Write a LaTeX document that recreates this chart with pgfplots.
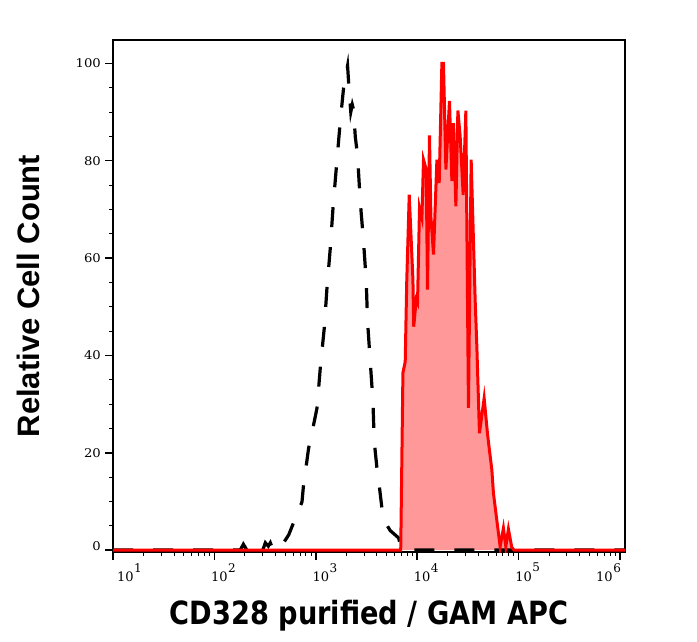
\documentclass[border=0pt]{standalone}
\usepackage{fontspec}
\usepackage{graphicx}
\usepackage{pgfplots}
\pgfplotsset{compat=1.18}
\newfontfamily\xlabfont{DejaVu Sans}
\newfontfamily\ylabfont{Liberation Sans}
\newfontfamily\tickfont{DejaVu Serif}
\newcommand{\xt}[1]{10\hspace{0.5pt}\raisebox{9.3pt}{\fontsize{12}{13}\selectfont #1}}
\newcommand{\yt}[1]{\scalebox{1.1}[1]{#1}}

\begin{document}
\begin{tikzpicture}
\begin{axis}[
  scale only axis, width=512pt, height=512pt,
  xmode=log, xmin=10, xmax=1.12e6, ymin=-0.4, ymax=104.8,
  axis line style={line width=1.2pt, black},
  xtick={10,100,1000,10000,100000,1000000},
  xticklabels={{\hspace*{7.5pt}\xt{1}},{\xt{2}},{\xt{3}},{\xt{4}},{\xt{5}},{\hspace*{-20.5pt}\xt{6}}},
  minor xtick={20,30,40,50,60,70,80,90,200,300,400,500,600,700,800,900,2000,3000,4000,5000,6000,7000,8000,9000,20000,30000,40000,50000,60000,70000,80000,90000,200000,300000,400000,500000,600000,700000,800000,900000},
  ytick={0,20,40,60,80,100},
  yticklabels={{\raisebox{8pt}{\yt{0}}},{\yt{20}},{\yt{40}},{\yt{60}},{\yt{80}},{\yt{100}}},
  minor ytick={5,10,15,25,30,35,45,50,55,65,70,75,85,90,95},
  tick align=outside,
  xtick pos=bottom, ytick pos=left,
  major tick length=8pt, minor tick length=4pt,
  every major tick/.style={line width=1.6pt, black},
  every minor tick/.style={line width=1pt, black},
  xticklabel style={font=\tickfont\fontsize{13}{15}\selectfont, anchor=north west, inner sep=0pt, xshift=-3.5pt, yshift=-3pt},
  yticklabel style={font=\tickfont\fontsize{12}{14}\selectfont, anchor=east, inner sep=0pt, xshift=-4pt},
  xlabel={\scalebox{0.85}[1]{\xlabfont\bfseries\fontsize{32}{36}\selectfont CD328 purified / GAM APC}},
  xlabel style={at={(axis description cs:0.5,-0.1412)}, anchor=base, inner sep=0pt},
  ylabel={\ylabfont\bfseries\fontsize{31}{34}\selectfont Relative Cell Count},
  ylabel style={at={(axis description cs:-0.1426,0.5)}, anchor=base, inner sep=0pt},
  clip=true,
]
\coordinate (sw) at (rel axis cs:0,0);
\coordinate (ne) at (rel axis cs:1,1);

% red filled histogram (fill)
\addplot[draw=none, fill=red!40] coordinates {
(10,0) (6700,0) (6877,0) (7230,36.4) (7617,38.7) (7882,55) (8343,73) (9071,55.6)
(9238,45.9) (9775,51.4) (10070,50.8) (10537,70.3) (11125,68.2) (11536,80.2) (12265,78.2)
(12632,53.5) (13217,85.2) (13646,68.6) (14474,60.7) (15637,80.2) (16475,75.4) (17512,100)
(18160,100) (19179,78.2) (20809,92.3) (21976,75.8) (22785,87.7) (24063,70.6) (25177,90.3)
(26521,85.0) (28391,73.0) (30182,90.3) (32012,29.2) (34041,80.2) (37275,51.4) (38745,41.8)
(41094,24.0) (45719,31.2) (49271,24.0) (51220,21) (54450,16.5) (56451,11.7) (58677,8.9)
(65725,0.7) (70828,4.5) (74806,0.7) (79344,4.3) (85704,0.5) (90310,0) (1.12e6,0)
} \closedcycle;

% black dashed control histogram
\addplot[black, line width=3.2pt, dash pattern=on 20pt off 20pt] coordinates {
(10,0) (180,0) (193,1.2) (205,0.3) (215,1.0) (225,0) (300,0) (318,1.5) (340,0.8) (356,1.5)
(380,0) (447,0.5) (540,3.1) (614,6) (731,9.9) (754,13) (849,20.9) (925,24.5) (1028,29.2)
(1107,37.4) (1213,45.7) (1289,53.9) (1390,62.1) (1479,70.4) (1594,78.6) (1743,88.1)
(1880,95) (1953,97) (2057,99.5) (2138,94) (2213,90) (2290,91.5) (2357,90.5) (2449,85)
(2582,81) (2742,71.7) (2956,63.4) (3144,55.2) (3238,47) (3444,38.7) (3661,30.5) (3770,22.3)
(4009,16.8) (4254,12.7) (4523,8) (4731,6) (5420,4) (6546,2.5) (6955,0.5) (7627,0) (1.12e6,0)
};

% red outline
\addplot[red, line width=3pt] coordinates {
(10,0) (6700,0) (6877,0) (7230,36.4) (7617,38.7) (7882,55) (8343,73) (9071,55.6)
(9238,45.9) (9775,51.4) (10070,50.8) (10537,70.3) (11125,68.2) (11536,80.2) (12265,78.2)
(12632,53.5) (13217,85.2) (13646,68.6) (14474,60.7) (15637,80.2) (16475,75.4) (17512,100)
(18160,100) (19179,78.2) (20809,92.3) (21976,75.8) (22785,87.7) (24063,70.6) (25177,90.3)
(26521,85.0) (28391,73.0) (30182,90.3) (32012,29.2) (34041,80.2) (37275,51.4) (38745,41.8)
(41094,24.0) (45719,31.2) (49271,24.0) (51220,21) (54450,16.5) (56451,11.7) (58677,8.9)
(65725,0.7) (70828,4.5) (74806,0.7) (79344,4.3) (85704,0.5) (90310,0) (1.12e6,0)
};
\end{axis}
\pgfresetboundingbox
\path[use as bounding box] ([shift={(-113pt,-89pt)}]sw) rectangle ([shift={(72pt,40pt)}]ne);
\end{tikzpicture}
\end{document}
